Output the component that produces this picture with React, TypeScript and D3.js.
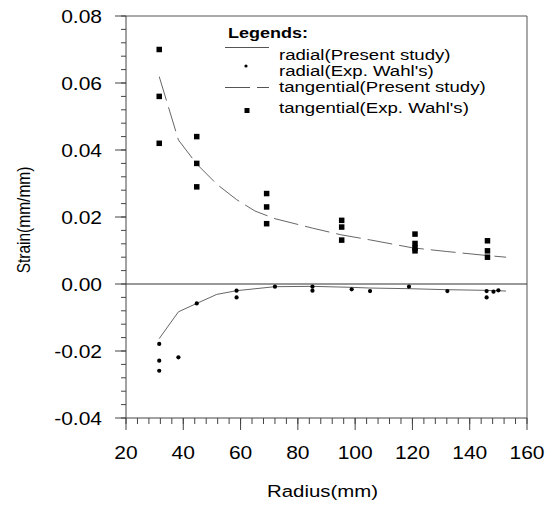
import React from "react";
import * as d3 from "d3";

// ---- data ----
const radialModelR = [31.6, 38.3, 44.7, 51.7, 58.6, 72, 85, 99, 105, 119, 132, 146, 152.7];
const radialModelS = [-0.0163, -0.0083, -0.0058, -0.0031, -0.002, -0.0008, -0.0007, -0.001, -0.0012, -0.0014, -0.0017, -0.0019, -0.0021];

const radialExpR = [31.6, 31.6, 31.6, 38.3, 44.7, 58.6, 58.6, 72.0, 85.1, 85.1, 98.8, 105.2, 118.8, 132.2, 145.9, 145.9, 148.3, 150.0];
const radialExpS = [-0.0179, -0.0229, -0.0259, -0.0219, -0.0058, -0.002, -0.004, -0.0008, -0.0008, -0.002, -0.0016, -0.0021, -0.0008, -0.0021, -0.0021, -0.004, -0.0023, -0.0019];

const tangModelR = [31.6, 38.3, 44.7, 51.7, 58.6, 65, 72, 85, 95, 105, 120, 132, 146, 152.7];
const tangModelS = [0.0619, 0.043, 0.0358, 0.0298, 0.0252, 0.0218, 0.0195, 0.0167, 0.0147, 0.0132, 0.0108, 0.0097, 0.0085, 0.008];

const tangExpR = [31.6, 31.6, 31.6, 44.7, 44.7, 44.7, 69.1, 69.1, 69.1, 95.3, 95.3, 95.3, 120.9, 120.9, 120.9, 120.9, 146.2, 146.2, 146.2];
const tangExpS = [0.07, 0.056, 0.042, 0.044, 0.036, 0.029, 0.027, 0.023, 0.018, 0.019, 0.017, 0.0131, 0.0149, 0.0121, 0.0107, 0.0099, 0.0129, 0.0099, 0.008];

const xTicks = [20, 40, 60, 80, 100, 120, 140, 160];
const yTicks = [-0.04, -0.02, 0.0, 0.02, 0.04, 0.06, 0.08];

const legendLabels = [
  "radial(Present study)",
  "radial(Exp. Wahl's)",
  "tangential(Present study)",
  "tangential(Exp. Wahl's)",
];

const FONT = "'Liberation Sans', Arial, sans-serif";

export default function App() {
  const left = 126, right = 527, top = 16, bottom = 418;
  const x = d3.scaleLinear().domain([20, 160]).range([left, right]);
  const y = d3.scaleLinear().domain([-0.04, 0.08]).range([bottom, top]);

  const line = d3.line<[number, number]>().x((d) => x(d[0])).y((d) => y(d[1]));
  const radialPath = line(radialModelR.map((r, i) => [r, radialModelS[i]]) as [number, number][]) || "";
  const tangPath = line(tangModelR.map((r, i) => [r, tangModelS[i]]) as [number, number][]) || "";

  const xMinor = d3.range(20, 160.001, 4);
  const yMinor = d3.range(-0.04, 0.08001, 0.004);
  const sx = 1.2;

  return (
    <svg width={553} height={509} style={{ position: "absolute", left: 0, top: 0, background: "#fff" }}>
      {/* frame */}
      <line x1={left} y1={top} x2={right} y2={top} stroke="#555" strokeWidth={1} />
      <line x1={right} y1={top} x2={right} y2={bottom} stroke="#555" strokeWidth={1} />
      <line x1={left} y1={top} x2={left} y2={bottom} stroke="#444" strokeWidth={1} />
      <line x1={left} y1={bottom} x2={right} y2={bottom} stroke="#444" strokeWidth={1} />
      {/* zero line */}
      <line x1={left} y1={y(0)} x2={right} y2={y(0)} stroke="#333" strokeWidth={1} />

      {/* y ticks */}
      {yMinor.map((v, i) => (
        <line key={"ym" + i} x1={left - 5} x2={left} y1={y(v)} y2={y(v)} stroke="#444" />
      ))}
      {yTicks.map((v, i) => (
        <g key={"yt" + i}>
          <line x1={left - 11} x2={left} y1={y(v)} y2={y(v)} stroke="#444" />
          <text
            transform={`translate(102,${y(v) + 6.5}) scale(${sx},1)`}
            textAnchor="end"
            fontFamily={FONT}
            fontSize={17.5}
            fill="#000"
          >
            {v.toFixed(2)}
          </text>
        </g>
      ))}

      {/* x ticks */}
      {xMinor.map((v, i) => (
        <line key={"xm" + i} x1={x(v)} x2={x(v)} y1={bottom} y2={bottom + 6} stroke="#444" />
      ))}
      {xTicks.map((v, i) => (
        <g key={"xt" + i}>
          <line x1={x(v)} x2={x(v)} y1={bottom} y2={bottom + 12} stroke="#444" />
          <text
            transform={`translate(${x(v)},459) scale(${sx},1)`}
            textAnchor="middle"
            fontFamily={FONT}
            fontSize={17.5}
            fill="#000"
          >
            {v}
          </text>
        </g>
      ))}

      {/* axis titles */}
      <text
        transform={`translate(${(left + right) / 2 - 4},497) scale(${sx},1)`}
        textAnchor="middle"
        fontFamily={FONT}
        fontSize={17}
        fill="#000"
      >
        Radius(mm)
      </text>
      <text
        transform={`translate(30,220) rotate(-90) scale(1,${sx})`}
        textAnchor="middle"
        fontFamily={FONT}
        fontSize={15.5}
        fill="#000"
      >
        Strain(mm/mm)
      </text>

      {/* model curves */}
      <path d={radialPath} fill="none" stroke="#666" strokeWidth={1} />
      <path d={tangPath} fill="none" stroke="#666" strokeWidth={1} strokeDasharray="25 7" />

      {/* experimental points */}
      {radialExpR.map((r, i) => (
        <circle key={"rd" + i} cx={x(r)} cy={y(radialExpS[i])} r={2.1} fill="#000" />
      ))}
      {tangExpR.map((r, i) => (
        <rect key={"tq" + i} x={x(r) - 2.75} y={y(tangExpS[i]) - 2.75} width={5.5} height={5.5} fill="#000" />
      ))}

      {/* legend */}
      <text transform={`translate(228,37.5) scale(${sx},1)`} fontFamily={FONT} fontSize={15} fontWeight="bold" fill="#000">
        Legends:
      </text>
      <line x1={225} x2={269} y1={47.5} y2={47.5} stroke="#555" />
      <circle cx={246} cy={66} r={1.6} fill="#000" />
      <line x1={225} x2={269} y1={87.5} y2={87.5} stroke="#555" strokeDasharray="25 7" />
      <rect x={244.5} y={108} width={5} height={5} fill="#000" />
      {legendLabels.map((t, i) => (
        <text
          key={"lg" + i}
          transform={`translate(279,${[60, 76, 92, 113][i]}) scale(${sx},1)`}
          fontFamily={FONT}
          fontSize={15.5}
          fill="#000"
        >
          {t}
        </text>
      ))}
    </svg>
  );
}
